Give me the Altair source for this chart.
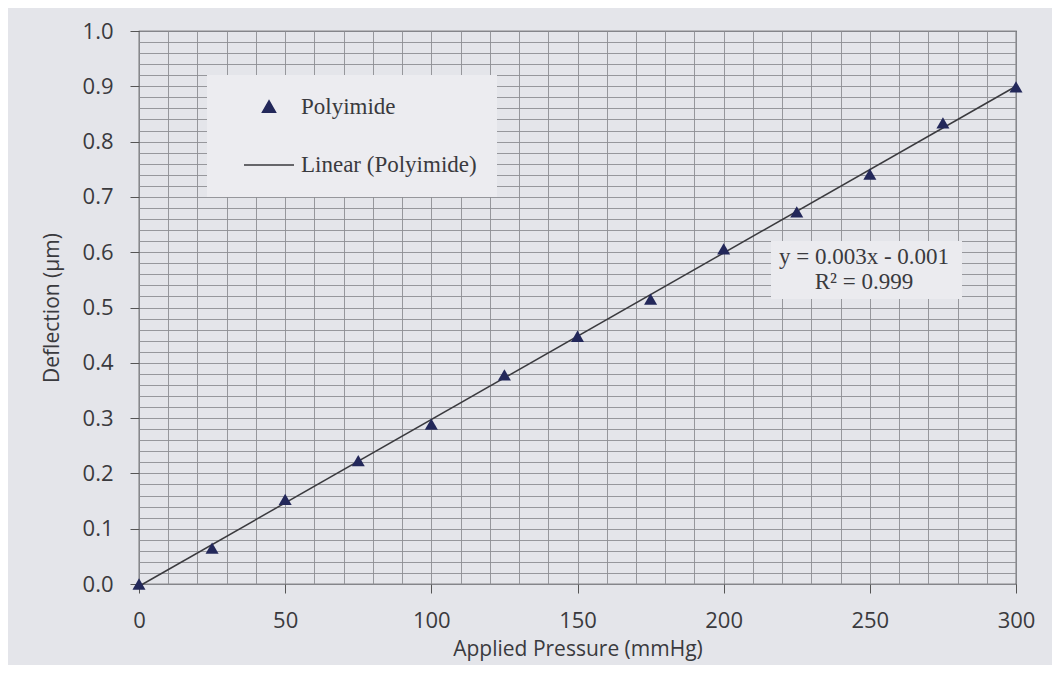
import altair as alt
import pandas as pd

pressure = [0, 25, 50, 75, 100, 125, 150, 175, 200, 225, 250, 275, 300]
deflection = [0.0, 0.065, 0.153, 0.223, 0.289, 0.378, 0.448, 0.515, 0.606, 0.673, 0.741, 0.834, 0.899]
series_names = ["Polyimide", "Linear (Polyimide)"]
equation_lines = ["y = 0.003x - 0.001", "R² = 0.999"]

x_ticks = list(range(0, 301, 10))
y_ticks = [round(i * 0.02, 2) for i in range(51)]

df = pd.DataFrame({"pressure": pressure, "deflection": deflection, "series": series_names[0]})
eq_df = pd.DataFrame({"line": equation_lines, "row": [0, 1]})

BG = "#e4e5ea"
GRID = "#8d8e94"
INK = "#3a3a3e"
MARK = "#23285a"
SANS = "Open Sans"
SERIF = "Liberation Serif"

x_enc = alt.X(
    "pressure:Q",
    scale=alt.Scale(domain=[0, 300], nice=False),
    axis=alt.Axis(
        values=x_ticks,
        title="Applied Pressure (mmHg)",
        labelExpr="datum.value % 50 === 0 ? datum.label : ''",
        labelOverlap=False,
        labelFlush=False,
        tickColor={"condition": {"test": "datum.value % 50 === 0", "value": "#555"}, "value": "rgba(0,0,0,0)"},
        tickSize=9,
        labelPadding=17,
        titlePadding=7,
        grid=True,
    ),
)
y_enc = alt.Y(
    "deflection:Q",
    scale=alt.Scale(domain=[0, 1.0], nice=False),
    axis=alt.Axis(
        values=y_ticks,
        title="Deflection (µm)",
        format=".1f",
        labelExpr="round(datum.value * 50) % 5 === 0 ? datum.label : ''",
        labelOverlap=False,
        labelFlush=False,
        tickColor={"condition": {"test": "round(datum.value * 50) % 5 === 0", "value": "#555"}, "value": "rgba(0,0,0,0)"},
        tickSize=9,
        labelPadding=17,
        titlePadding=20,
        grid=True,
    ),
)

legend = alt.Legend(
    orient="none",
    legendX=68,
    legendY=44,
    fillColor="#ececf0",
    padding=20,
    rowPadding=20,
    labelFont=SERIF,
    labelFontSize=23,
    labelColor=INK,
    labelOffset=6,
    labelLimit=400,
    symbolOffset=16,
    symbolStrokeWidth=1.5,
)

color_scale = alt.Scale(domain=series_names, range=[MARK, INK])
shape_scale = alt.Scale(domain=series_names, range=["triangle-up", "stroke"])
size_scale = alt.Scale(domain=series_names, range=[170, 2500])

base = alt.Chart(df)

points = base.mark_point(filled=True, opacity=1).encode(
    x=x_enc,
    y=y_enc,
    color=alt.Color("series:N", scale=color_scale, legend=legend, title=None),
    shape=alt.Shape("series:N", scale=shape_scale, legend=legend, title=None),
    size=alt.Size("series:N", scale=size_scale, legend=legend, title=None),
)

trend = base.transform_regression(
    "pressure", "deflection", extent=[0, 300]
).transform_calculate(series="'Linear (Polyimide)'").mark_line(strokeWidth=1.5).encode(
    x=x_enc,
    y=y_enc,
    color=alt.Color("series:N", scale=color_scale, legend=legend, title=None),
)

eq_box = alt.Chart(eq_df).transform_filter("datum.row === 0").mark_rect(color="#ebebef").encode(
    x=alt.value(632), x2=alt.value(823), y=alt.value(210), y2=alt.value(268)
)
eq_text1 = alt.Chart(eq_df).transform_filter("datum.row === 0").mark_text(
    font=SERIF, fontSize=23, color=INK, align="center", baseline="middle"
).encode(text="line:N", x=alt.value(725), y=alt.value(226))
eq_text2 = alt.Chart(eq_df).transform_filter("datum.row === 1").mark_text(
    font=SERIF, fontSize=23, color=INK, align="center", baseline="middle"
).encode(text="line:N", x=alt.value(725), y=alt.value(251))

chart = alt.layer(trend, points, eq_box, eq_text1, eq_text2).properties(
    width=877,
    height=553,
    background=BG,
    padding={"left": 131, "top": 23, "right": 36, "bottom": 81},
    autosize=alt.AutoSizeParams(type="none"),
).configure_view(
    stroke="#333", strokeWidth=1.2, fill=BG
).configure_axis(
    gridColor=GRID,
    gridWidth=1,
    gridOpacity=0.9,
    domain=False,
    labelFont=SANS,
    labelFontSize=22,
    labelColor=INK,
    titleFont=SANS,
    titleFontSize=21,
    titleFontWeight="normal",
    titleColor=INK,
)

chart.save("out.html", embed_options={"renderer": "svg", "actions": False})
